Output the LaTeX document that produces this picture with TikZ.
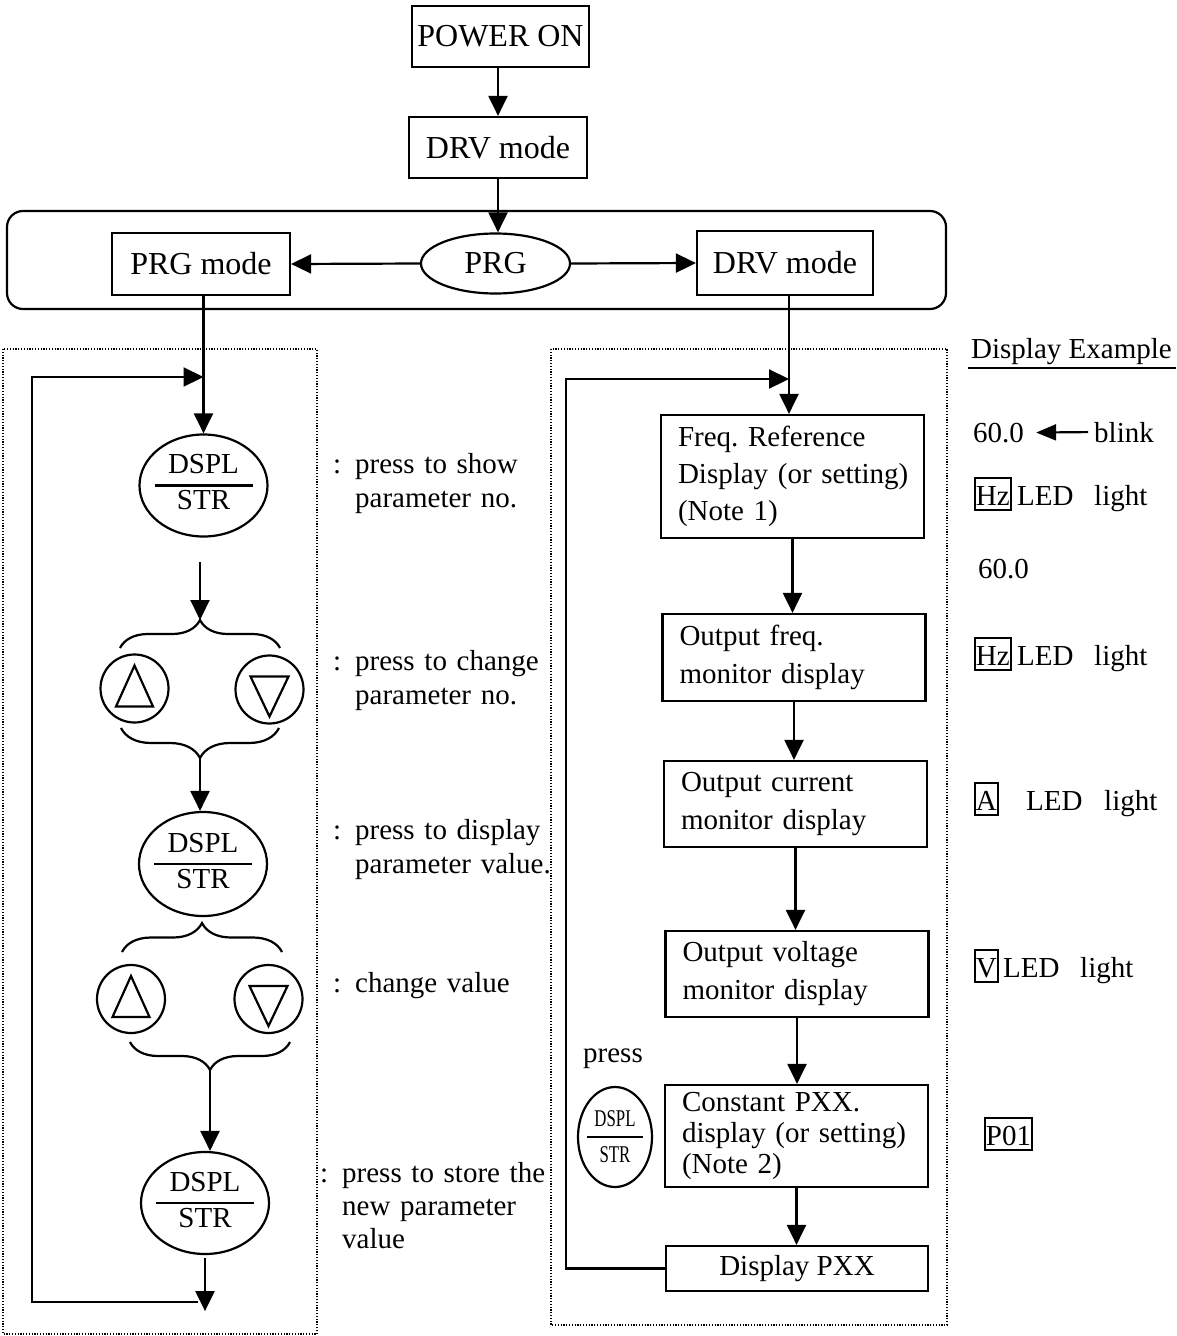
\documentclass[tikz,border=0pt]{standalone}
\usepackage{fontspec}
\usepackage{graphicx}
\setmainfont{Liberation Serif}
\usetikzlibrary{arrows.meta,shapes.geometric,decorations.pathreplacing,calc}

\tikzset{
  lw/.style={line width=2.2pt},
  flow/.style={lw, -{Triangle[length=20pt,width=19pt]}},
  stepbox/.style={draw, lw, rectangle, inner sep=0pt, align=center},
  bigtext/.style={font=\fontsize{32}{38}\selectfont},
  infobox/.style={draw, lw, rectangle, inner xsep=17pt, inner ysep=0pt,
    text width=229pt, align=left, font=\fontsize{29}{38}\selectfont},
  keycap/.style={draw, lw, ellipse, inner sep=0pt, align=center,
    path picture={\draw[lw] ([xshift=-#1]path picture bounding box.center)
      -- ([xshift=#1]path picture bounding box.center);}},
  keycap/.default=49pt,
  arrowkey/.style={draw, lw, circle, minimum size=68pt, inner sep=0pt},
  fence/.style={line width=1.2pt, dash pattern=on 1.2pt off 1.6pt},
  curly/.style={lw, decorate, decoration={brace, amplitude=#1}},
  curlydown/.style={lw, decorate, decoration={brace, mirror, amplitude=#1}},
  note/.style={anchor=base west, inner sep=0pt, align=left, text width=225pt,
    font=\fontsize{29}{34}\selectfont},
  plain/.style={anchor=base west, inner sep=0pt},
  led/.style={draw, line width=1.8pt, anchor=base west, inner xsep=1pt,
    inner ysep=1pt, text height=26pt, text depth=4pt},
  every node/.style={font=\fontsize{29}{36}\selectfont},
}
\newcommand{\colonlead}{\makebox[22pt][l]{:}}
\newcommand{\narrow}[1]{\scalebox{0.7}[1]{#1}}

\begin{document}
\frenchspacing
\begin{tikzpicture}[x=1pt,y=-1pt]
\useasboundingbox (0,0) rectangle (1176,1336);

% ---------- start-up sequence ----------
\node[stepbox, bigtext, minimum width=177pt, minimum height=61pt] (pon) at (500.5,36.5) {POWER ON};
\node[stepbox, bigtext, minimum width=178pt, minimum height=61pt] (drv1) at (498,147.5) {DRV mode};
\node[draw, lw, rounded corners=16pt, minimum width=939pt, minimum height=98pt, inner sep=0pt] (panel) at (476.5,260) {};
\node[stepbox, bigtext, minimum width=178pt, minimum height=62pt] (prgm) at (201,264) {PRG mode};
\node[draw, lw, ellipse, bigtext, minimum width=149pt, minimum height=60pt, inner sep=0pt] (prg) at (495.5,263.5) {PRG};
\node[stepbox, bigtext, minimum width=176pt, minimum height=64pt] (drv2) at (785,263) {DRV mode};

\draw[flow] (drv1.north |- pon.south) -- (drv1.north);
\draw[flow] (drv1.south) -- (drv1.south |- prg.north);
\draw[flow] (prg.west) -- (prgm.east);
\draw[flow] (prg.east) -- (drv2.west);

% ---------- dotted frames ----------
\draw[fence] (3,349) rectangle (317,1334);
\draw[fence] (551,349) rectangle (947,1325);

% ---------- parameter setting (left) ----------
\node[keycap, minimum width=128pt, minimum height=102pt] (k1) at (203.5,485.5) {DSPL\\STR\vphantom{y}};
\node[keycap, minimum width=128pt, minimum height=104pt] (k2) at (203,864) {DSPL\\STR\vphantom{y}};
\node[keycap, minimum width=128pt, minimum height=102pt] (k3) at (205,1203) {DSPL\\STR\vphantom{y}};

\draw[flow] (prgm.south -| k1.north) -- (k1.north);

% first pair of arrow keys
\coordinate (a1s) at (200,562);
\coordinate (b1tip) at (200,620);
\draw[curly=28pt] (120,648) -- (280,648);
\draw[flow] (a1s) -- (b1tip);
\node[arrowkey] (up1) at (134.5,688.5) {};
\node[arrowkey] (dn1) at (269.5,689.5) {};
\draw[lw] ($(up1)+(0,-23)$) -- ($(up1)+(18.5,18)$) -- ($(up1)+(-18.5,18)$) -- cycle;
\draw[lw] ($(dn1)+(-19,-13)$) -- ($(dn1)+(19,-13)$) -- ($(dn1)+(0,27)$) -- cycle;
\draw[curlydown=30pt] (121,728) -- (279,728);
\coordinate (b2tip) at (200,758);
\draw[flow] (b2tip) -- (b2tip |- k2.north);

% second pair of arrow keys
\draw[curly=29pt] (122,952) -- (282,952);
\node[arrowkey] (up2) at (131,999) {};
\node[arrowkey] (dn2) at (268.5,999) {};
\draw[lw] ($(up2)+(0,-23)$) -- ($(up2)+(18.5,18)$) -- ($(up2)+(-18.5,18)$) -- cycle;
\draw[lw] ($(dn2)+(-19,-13)$) -- ($(dn2)+(19,-13)$) -- ($(dn2)+(0,27)$) -- cycle;
\draw[curlydown=28pt] (130,1042) -- (290,1042);
\coordinate (b4tip) at (210,1070);
\draw[flow] (b4tip) -- (b4tip |- k3.north);

% return loop
\draw[flow] ([yshift=-3pt]k3.south) -- ([yshift=-56pt]k3.south);
\coordinate (lbot) at (198,1302);
\coordinate (lc1) at (32,1302);
\coordinate (lc2) at (32,377);
\draw[flow] (lbot) -- (lc1) -- (lc2) -- (lc2 -| k1.north);

% explanations
\node[note] (t1) at (333,473) {\colonlead press to show\\\hspace*{22pt}parameter no.};
\node[note] (t2) at (333,670) {\colonlead press to change\\\hspace*{22pt}parameter no.};
\node[note] (t3) at (333,839) {\colonlead press to display\\\hspace*{22pt}parameter value.};
\node[note] (t4) at (333,992) {\colonlead change value};
\node[note, font=\fontsize{29}{33}\selectfont] (t5) at (320,1182) {\colonlead press to store the\\\hspace*{22pt}new parameter\\\hspace*{22pt}value};

% ---------- monitor displays (right) ----------
\node[infobox, minimum height=123pt, font=\fontsize{29}{37}\selectfont] (f1) at (792.5,476.5) {\mbox{Freq. Reference}\\\mbox{Display (or setting)}\\\mbox{(Note 1)}};
\node[infobox, minimum height=87pt] (f2) at (794,657.5) {\mbox{Output freq.}\\\mbox{monitor display}};
\node[infobox, minimum height=86pt] (f3) at (795.5,804) {\mbox{Output current}\\\mbox{monitor display}};
\node[infobox, minimum height=86pt] (f4) at (797,974) {\mbox{Output voltage}\\\mbox{monitor display}};
\node[infobox, minimum height=102pt, font=\fontsize{29}{31}\selectfont] (f5) at (796.5,1136) {\mbox{Constant PXX.}\\\mbox{display (or setting)}\\\mbox{(Note 2)}};
\node[stepbox, minimum width=262pt, minimum height=45pt] (f6) at (797,1268.5) {Display PXX};

\coordinate (dr) at ([xshift=4pt]drv2.south);
\draw[flow] (dr) -- (dr |- f1.north);
\draw[flow] (f1.south) -- (f1.south |- f2.north);
\draw[flow] (f2.south) -- (f2.south |- f3.north);
\draw[flow] (f3.south) -- (f3.south |- f4.north);
\draw[flow] (f4.south) -- (f4.south |- f5.north);
\draw[flow] (f5.south) -- (f5.south |- f6.north);

\coordinate (rc1) at (566,1268.5);
\coordinate (rc2) at (566,379);
\draw[flow] (f6.west) -- (rc1) -- (rc2) -- (rc2 -| dr);

\node[plain] (press) at (583,1062) {press};
\node[keycap=28pt, minimum width=74pt, minimum height=100pt, font=\fontsize{24}{36}\selectfont] (k4) at (615,1137) {\narrow{DSPL}\\\narrow{STR}};

% ---------- display examples ----------
\node[plain] (dex) at (971,358) {Display Example};
\draw[lw] ($(dex.base west)+(-3,10)$) -- (1176,368);

\node[plain] (v1) at (973,442) {60.0};
\node[plain] (blink) at (1094,442) {blink};
\draw[lw, -{Triangle[length=20pt,width=16pt]}] ([xshift=-6pt]blink.west) -- ([xshift=12pt]v1.east);

\node[led] (hz1) at (974,505) {Hz};
\node[plain] (led1) at (1017,505) {LED};
\node[plain] (lt1) at (1094,505) {light};

\node[plain] (v2) at (978,578) {60.0};

\node[led] (hz2) at (974,665) {Hz};
\node[plain] (led2) at (1017,665) {LED};
\node[plain] (lt2) at (1094,665) {light};

\node[led] (amp) at (974,810) {A};
\node[plain] (led3) at (1026,810) {LED};
\node[plain] (lt3) at (1104,810) {light};

\node[led] (volt) at (974,977) {V};
\node[plain] (led4) at (1003,977) {LED};
\node[plain] (lt4) at (1080,977) {light};

\node[led] (p01) at (984,1145) {P01};
\end{tikzpicture}
\end{document}
